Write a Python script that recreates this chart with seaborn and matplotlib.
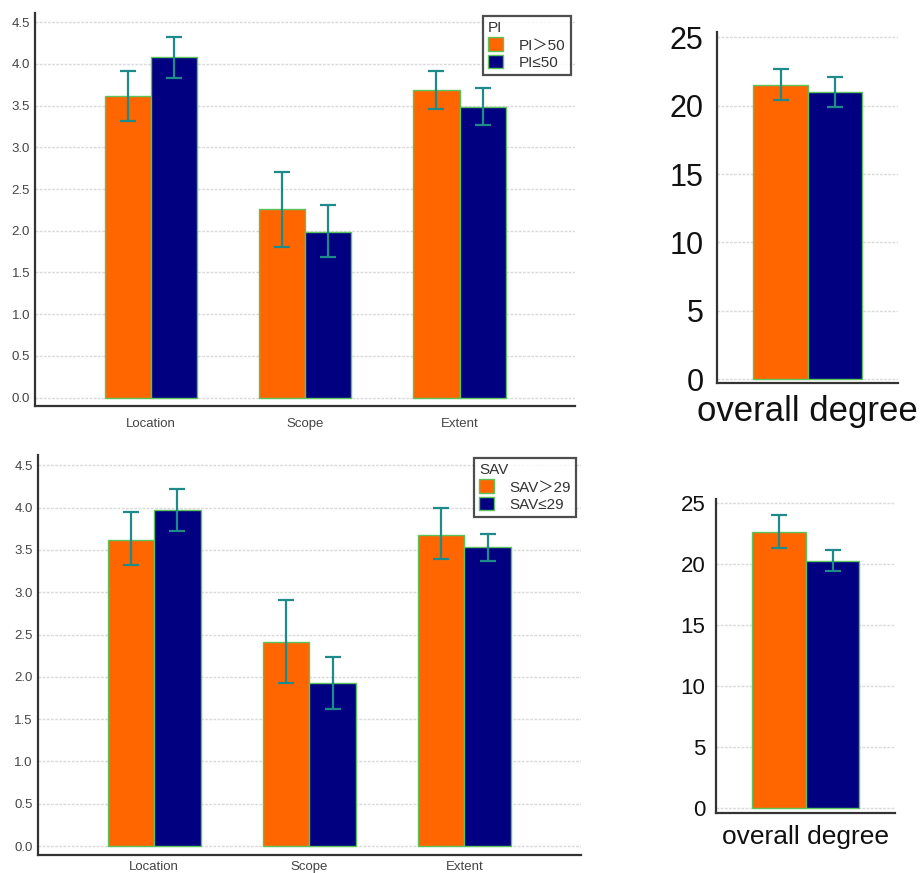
import numpy as np
import pandas as pd
import matplotlib
matplotlib.use("Agg")
import matplotlib.pyplot as plt
import seaborn as sns

# --- data ---
categories = ["Location", "Scope", "Extent"]

pi_groups = ["PI＞50", "PI≤50"]
pi_hi_mean = [3.62, 2.26, 3.69]
pi_hi_lo = [3.32, 1.81, 3.46]
pi_hi_up = [3.92, 2.71, 3.92]
pi_lo_mean = [4.08, 1.99, 3.49]
pi_lo_lo = [3.83, 1.69, 3.27]
pi_lo_up = [4.32, 2.31, 3.71]

sav_groups = ["SAV＞29", "SAV≤29"]
sav_hi_mean = [3.62, 2.41, 3.68]
sav_hi_lo = [3.32, 1.93, 3.39]
sav_hi_up = [3.95, 2.91, 4.00]
sav_lo_mean = [3.97, 1.93, 3.53]
sav_lo_lo = [3.72, 1.62, 3.37]
sav_lo_up = [4.22, 2.24, 3.69]

overall_label = ["overall degree"]
pi_total_mean = [21.5, 21.0]
pi_total_lo = [20.4, 19.9]
pi_total_up = [22.7, 22.1]
sav_total_mean = [22.6, 20.2]
sav_total_lo = [21.3, 19.45]
sav_total_up = [24.0, 21.1]

ORANGE = "#ff6600"
NAVY = "#000080"
EDGE = "#5cc25c"
ERR = "#1f8a8a"

sns.set_style("white")
plt.rcParams["font.family"] = ["Liberation Sans", "Noto Sans CJK SC", "DejaVu Sans"]


def make_df(cats, groups, means_by_group):
    rows = []
    for g, means in zip(groups, means_by_group):
        for c, m in zip(cats, means):
            rows.append({"cat": c, "group": g, "value": m})
    return pd.DataFrame(rows)


def draw_bars(ax, df, cats, groups, los, ups, ylim, yticks, tick_size,
              xlim, label_size, tick_color, legend_title=None, xpad=3.5,
              ypad=3.5):
    sns.barplot(data=df, x="cat", y="value", hue="group", order=cats,
                hue_order=groups, palette=[ORANGE, NAVY], width=0.6,
                saturation=1, errorbar=None, edgecolor=EDGE, linewidth=1.0,
                ax=ax, legend=legend_title is not None)
    for cont, lo, up in zip(ax.containers, los, ups):
        xs = [b.get_x() + b.get_width() / 2 for b in cont]
        ys = np.array([b.get_height() for b in cont])
        lo = np.array(lo)
        up = np.array(up)
        ax.errorbar(xs, ys, yerr=[ys - lo, up - ys], fmt="none",
                    ecolor=ERR, elinewidth=1.6, capsize=6,
                    capthick=1.6, zorder=5)
    ax.set_xlim(*xlim)
    ax.set_ylim(*ylim)
    ax.set_yticks(yticks)
    ax.set_xlabel("")
    ax.set_ylabel("")
    ax.yaxis.grid(True, color="#dadada", linestyle=(0, (2, 1)), linewidth=1.0)
    ax.set_axisbelow(True)
    for s in ["top", "right"]:
        ax.spines[s].set_visible(False)
    for s in ["left", "bottom"]:
        ax.spines[s].set_color("#333333")
        ax.spines[s].set_linewidth(1.6)
    ax.tick_params(axis="y", direction="in", length=6, width=1.2, pad=ypad,
                   labelsize=tick_size, colors="#333333", labelcolor=tick_color)
    ax.tick_params(axis="x", direction="out", length=5, width=1.2, pad=xpad,
                   labelsize=label_size, colors="#333333", labelcolor=tick_color)
    if legend_title is not None:
        leg = ax.legend(title=legend_title, loc="upper right",
                        bbox_to_anchor=(1.0, 1.005), fontsize=11,
                        title_fontsize=11, frameon=True, fancybox=False,
                        handlelength=1.0, handleheight=1.0, handletextpad=1.0,
                        borderpad=0.35, labelspacing=0.15, borderaxespad=0.3)
        leg._legend_box.align = "left"
        leg.get_frame().set_edgecolor("#222222")
        leg.get_frame().set_linewidth(1.6)
        for t in leg.get_texts():
            t.set_color("#333333")
        leg.get_title().set_color("#333333")


fig = plt.figure(figsize=(9.22, 8.73), dpi=100)

ax1 = fig.add_axes([0.038, 0.535, 0.586, 0.450])
draw_bars(ax1, make_df(categories, pi_groups, [pi_hi_mean, pi_lo_mean]),
          categories, pi_groups, [pi_hi_lo, pi_lo_lo], [pi_hi_up, pi_lo_up],
          (-0.1, 4.61), np.arange(0, 4.51, 0.5), 9.5, (-0.75, 2.75), 9.5,
          "#444444", legend_title="PI")
ax1.set_yticklabels([f"{v:.1f}" for v in np.arange(0, 4.51, 0.5)])

ax2 = fig.add_axes([0.041, 0.0206, 0.589, 0.458])
draw_bars(ax2, make_df(categories, sav_groups, [sav_hi_mean, sav_lo_mean]),
          categories, sav_groups, [sav_hi_lo, sav_lo_lo], [sav_hi_up, sav_lo_up],
          (-0.106, 4.62), np.arange(0, 4.51, 0.5), 9.5, (-0.75, 2.75), 9.5,
          "#444444", legend_title="SAV", xpad=1)
ax2.tick_params(axis="x", length=3)
ax2.set_yticklabels([f"{v:.1f}" for v in np.arange(0, 4.51, 0.5)])

ax3 = fig.add_axes([0.778, 0.561, 0.196, 0.402])
draw_bars(ax3, make_df(overall_label, pi_groups, [[pi_total_mean[0]], [pi_total_mean[1]]]),
          overall_label, pi_groups, [[pi_total_lo[0]], [pi_total_lo[1]]],
          [[pi_total_up[0]], [pi_total_up[1]]],
          (-0.3, 25.37), np.arange(0, 26, 5), 22, (-0.5, 0.5), 25, "#111111",
          ypad=10)

ax4 = fig.add_axes([0.777, 0.0687, 0.194, 0.360])
draw_bars(ax4, make_df(overall_label, sav_groups, [[sav_total_mean[0]], [sav_total_mean[1]]]),
          overall_label, sav_groups, [[sav_total_lo[0]], [sav_total_lo[1]]],
          [[sav_total_up[0]], [sav_total_up[1]]],
          (-0.41, 25.33), np.arange(0, 26, 5), 16, (-0.5, 0.5), 19, "#111111",
          ypad=8)

fig.savefig("out.png", dpi=100)
